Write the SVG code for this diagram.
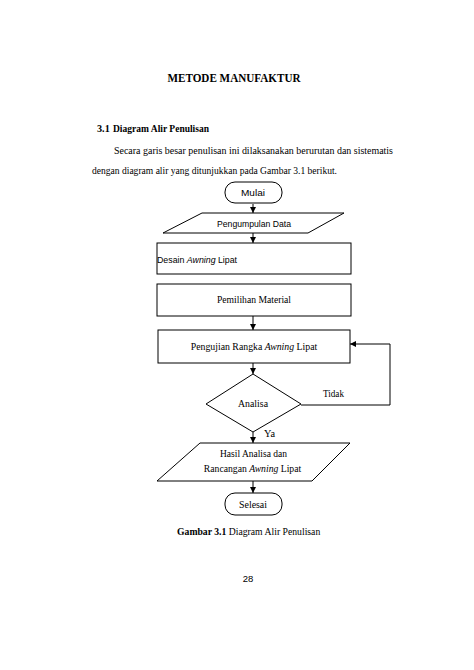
<svg xmlns="http://www.w3.org/2000/svg" width="474" height="670" viewBox="0 0 474 670">
<style>
.shape{fill:#fff;stroke:#000;stroke-width:1}
.serif{font-family:"Liberation Serif","Times New Roman",serif;fill:#000}
.sans{font-family:"Liberation Sans",Arial,sans-serif;fill:#000}
.conn{fill:none;stroke:#000;stroke-width:1}
</style>
<defs>
<marker id="ah" viewBox="0 0 6 6" refX="6" refY="3" markerWidth="6" markerHeight="6" markerUnits="userSpaceOnUse" orient="auto">
<path d="M0,0 L6,3 L0,6 z" fill="#000"/>
</marker>
</defs>
<rect width="474" height="670" fill="#fff"/>
<g id="page-text">
<text class="serif" x="234" y="82" font-size="11.5" font-weight="bold" text-anchor="middle" textLength="133" lengthAdjust="spacingAndGlyphs">METODE MANUFAKTUR</text>
<text class="serif" x="97" y="132" font-size="10.2" font-weight="bold">3.1</text>
<text class="serif" x="113" y="132" font-size="10.2" font-weight="bold" textLength="96" lengthAdjust="spacingAndGlyphs">Diagram Alir Penulisan</text>
<text class="serif" x="114" y="154" font-size="10.3" textLength="279" lengthAdjust="spacingAndGlyphs">Secara garis besar penulisan ini dilaksanakan berurutan dan sistematis</text>
<text class="serif" x="92" y="174" font-size="10.3" textLength="245" lengthAdjust="spacingAndGlyphs">dengan diagram alir yang ditunjukkan pada Gambar 3.1 berikut.</text>
<text class="serif" x="177" y="535" font-size="9.7"><tspan font-weight="bold">Gambar 3.1</tspan> Diagram Alir Penulisan</text>
<text class="sans" x="248" y="582" font-size="9.5" text-anchor="middle">28</text>
</g>
<g id="connectors">
<line class="conn" x1="253" y1="204" x2="253" y2="213" marker-end="url(#ah)"/>
<line class="conn" x1="253" y1="233" x2="253" y2="243" marker-end="url(#ah)"/>
<line class="conn" x1="253" y1="316" x2="253" y2="330" marker-end="url(#ah)"/>
<line class="conn" x1="253" y1="363" x2="253" y2="374" marker-end="url(#ah)"/>
<line class="conn" x1="253" y1="432" x2="253" y2="443" marker-end="url(#ah)"/>
<line class="conn" x1="253" y1="481" x2="253" y2="493" marker-end="url(#ah)"/>
<polyline class="conn" points="301,405 390,405 390,344 350,344" marker-end="url(#ah)"/>
<text class="serif" x="323" y="397" font-size="10.3" textLength="21" lengthAdjust="spacingAndGlyphs">Tidak</text>
<text class="serif" x="264" y="437" font-size="10.3">Ya</text>
</g>
<g id="mulai">
<rect class="shape" x="225" y="182" width="57" height="21" rx="10" ry="10"/>
<text class="sans" x="253" y="196" font-size="9.5" text-anchor="middle" textLength="24" lengthAdjust="spacingAndGlyphs">Mulai</text>
</g>
<g id="pengumpulan-data">
<polygon class="shape" points="202,213 344,213 308,233 163,233"/>
<text class="sans" x="254" y="226.5" font-size="9.5" text-anchor="middle" textLength="74" lengthAdjust="spacingAndGlyphs">Pengumpulan Data</text>
</g>
<g id="desain">
<rect class="shape" x="157" y="243" width="194" height="31"/>
<text class="sans" x="157" y="263" font-size="8.8">Desain <tspan font-style="italic">Awning</tspan> Lipat</text>
</g>
<g id="pemilihan-material">
<rect class="shape" x="157" y="284" width="194" height="32"/>
<text class="serif" x="254" y="303" font-size="10.3" text-anchor="middle" textLength="74" lengthAdjust="spacingAndGlyphs">Pemilihan Material</text>
</g>
<g id="pengujian">
<rect class="shape" x="158" y="330" width="192" height="33"/>
<text class="serif" x="254" y="350" font-size="9.8" text-anchor="middle">Pengujian Rangka <tspan font-style="italic">Awning</tspan> Lipat</text>
</g>
<g id="analisa">
<polygon class="shape" points="253,374 301,404 253,432 206,404"/>
<text class="serif" x="253" y="407" font-size="10.3" text-anchor="middle" textLength="30" lengthAdjust="spacingAndGlyphs">Analisa</text>
</g>
<g id="hasil">
<polygon class="shape" points="200,443 350,443 312,481 157,481"/>
<text class="serif" x="253.5" y="457" font-size="10.3" text-anchor="middle" textLength="67" lengthAdjust="spacingAndGlyphs">Hasil Analisa dan</text>
<text class="serif" x="252.5" y="472" font-size="9.7" text-anchor="middle">Rancangan <tspan font-style="italic">Awning</tspan> Lipat</text>
</g>
<g id="selesai">
<rect class="shape" x="225" y="493" width="57" height="22" rx="10" ry="10"/>
<text class="serif" x="253" y="508" font-size="10.3" text-anchor="middle" textLength="28" lengthAdjust="spacingAndGlyphs">Selesai</text>
</g>
</svg>
